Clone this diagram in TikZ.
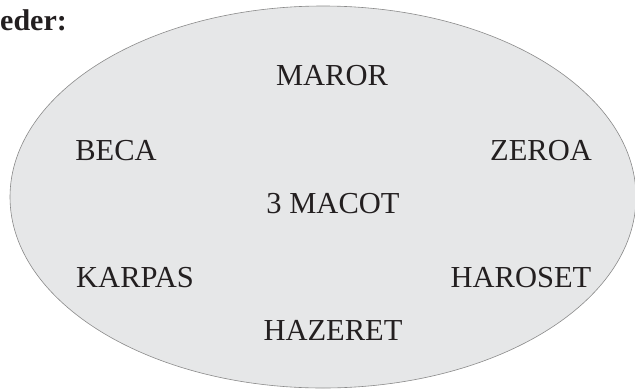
\documentclass[tikz,border=0pt]{standalone}
\usepackage{fontspec}
\setmainfont{Liberation Serif}
\usetikzlibrary{shapes.geometric}
\definecolor{fillgray}{HTML}{E6E7E8}
\definecolor{edgegray}{HTML}{8A8A8A}
\definecolor{ink}{HTML}{231F20}
\tikzset{
  item/.style={text=ink, font=\fontsize{30.5}{33}\selectfont, anchor=base, inner sep=0pt},
  title/.style={text=ink, font=\fontsize{30}{33}\selectfont\bfseries, anchor=base west, inner sep=0pt}
}
\begin{document}
\begin{tikzpicture}[x=1pt,y=-1pt]
\useasboundingbox (0,0) rectangle (635,389);
\begin{scope}
\clip (0,0) rectangle (635,389);
\node[draw=edgegray, fill=fillgray, line width=0.6pt, ellipse, minimum width=626pt, minimum height=382pt, inner sep=0pt] (plate) at (323,197) {};
\end{scope}
\node[title] (hdr) at (0,30) {eder:};
\node[item] (maror) at (332,85) {MAROR};
\node[item] (beca) at (116,160) {BECA};
\node[item] (zeroa) at (541,160) {ZEROA};
\node[item] (macot) at (333,213) {3 MACOT};
\node[item] (karpas) at (135,287) {KARPAS};
\node[item] (haroset) at (521,287) {HAROSET};
\node[item] (hazeret) at (333,340) {HAZERET};
\end{tikzpicture}
\end{document}
